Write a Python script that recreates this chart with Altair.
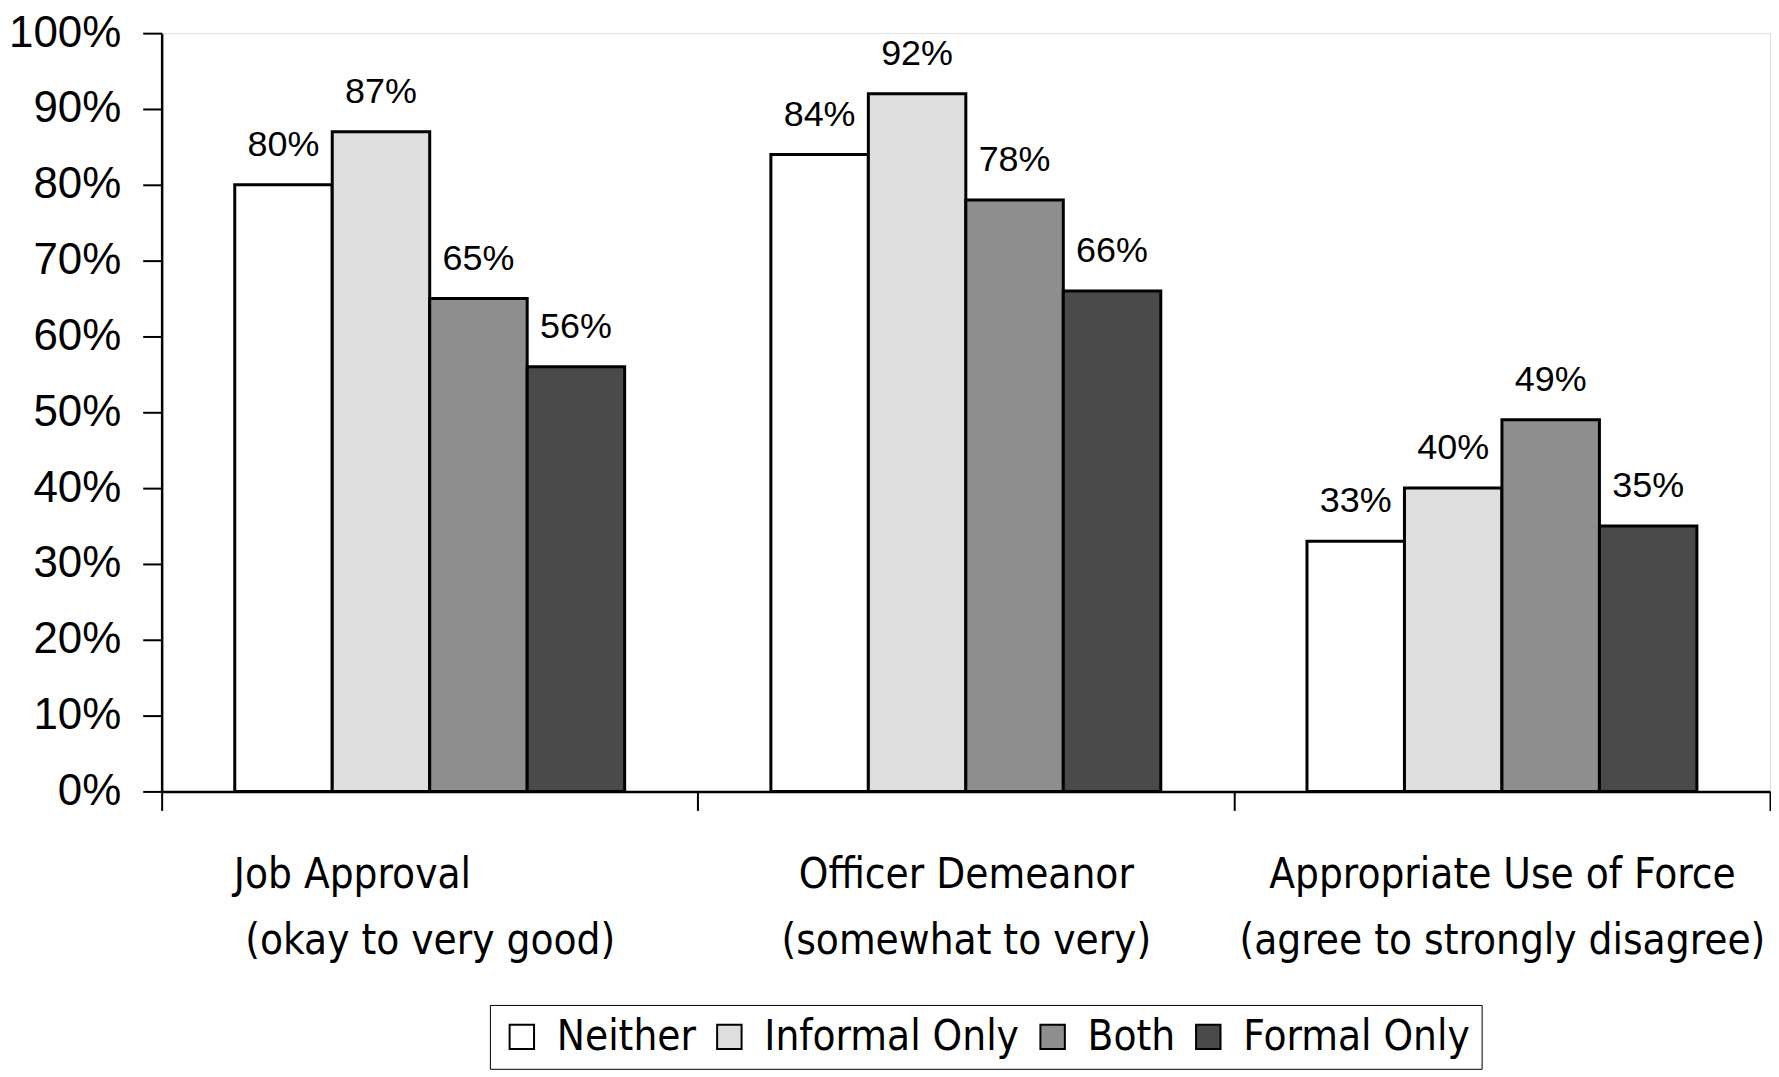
import altair as alt
import pandas as pd

categories = [
    "Job Approval" + "\u00a0" * 13 + "\u200b|(okay to very good)",
    "Officer Demeanor|(somewhat to very)",
    "Appropriate Use of Force|(agree to strongly disagree)",
]
groups = ["Neither", "Informal Only", "Both", "Formal Only"]
neither = [0.80, 0.84, 0.33]
informal_only = [0.87, 0.92, 0.40]
both = [0.65, 0.78, 0.49]
formal_only = [0.56, 0.66, 0.35]
group_colors = ["#ffffff", "#dedede", "#8e8e8e", "#4a4a4a"]

rows = []
for series_name, vals in zip(groups, [neither, informal_only, both, formal_only]):
    for cat, v in zip(categories, vals):
        rows.append({"category": cat, "group": series_name, "value": v,
                     "label": f"{round(v * 100)}%"})
df = pd.DataFrame(rows)

NARROW = "DejaVu Sans Condensed, Liberation Sans, Arial, sans-serif"
REG = "Liberation Sans"

x = alt.X("category:N", sort=categories,
          scale=alt.Scale(paddingInner=0, paddingOuter=0),
          axis=alt.Axis(title=None, labelAngle=0, labelExpr="split(datum.label, '|')",
                        labelFont=NARROW, labelFontSize=42, labelColor="black",
                        labelLineHeight=66, labelPadding=44, labelBaseline="top",
                        labelLimit=700,
                        tickBand="extent", tickSize=19, tickColor="black", tickWidth=2,
                        domainColor="black", domainWidth=2.5))
xoff = alt.XOffset("group:N", sort=groups,
                   scale=alt.Scale(paddingInner=0, paddingOuter=0.75))
y = alt.Y("value:Q", scale=alt.Scale(domain=[0, 1]),
          axis=alt.Axis(title=None, format=".0%", values=[i / 10 for i in range(11)],
                        labelFont=REG, labelFontSize=44, labelColor="black",
                        labelPadding=22, tickSize=19, tickColor="black", tickWidth=2,
                        domainColor="black", domainWidth=2.5, grid=False))

bars = alt.Chart(df).mark_bar(stroke="black", strokeWidth=3).encode(
    x=x, xOffset=xoff, y=y,
    fill=alt.Fill("group:N", sort=groups,
                  scale=alt.Scale(domain=groups, range=group_colors),
                  legend=alt.Legend(title=None, orient="none", legendX=329, legendY=974,
                                    direction="horizontal", strokeColor="black",
                                    fillColor="white", padding=11, symbolType="square",
                                    symbolSize=600, symbolStrokeColor="black",
                                    symbolStrokeWidth=2, labelFont=NARROW,
                                    labelFontSize=42, labelColor="black", labelOffset=14,
                                    columnPadding=12, labelLimit=500)),
)

labels = alt.Chart(df).mark_text(font=REG, fontSize=36, color="black",
                                 baseline="bottom", dy=-21).encode(
    x=x, xOffset=xoff, y=y, text="label:N")

chart = (bars + labels).properties(
    width=1612, height=760,
    padding={"left": 0, "top": 2, "right": 0, "bottom": 0},
).configure_view(stroke=None).configure(background="white")

chart.save("out.html", embed_options={"renderer": "svg", "actions": False})
